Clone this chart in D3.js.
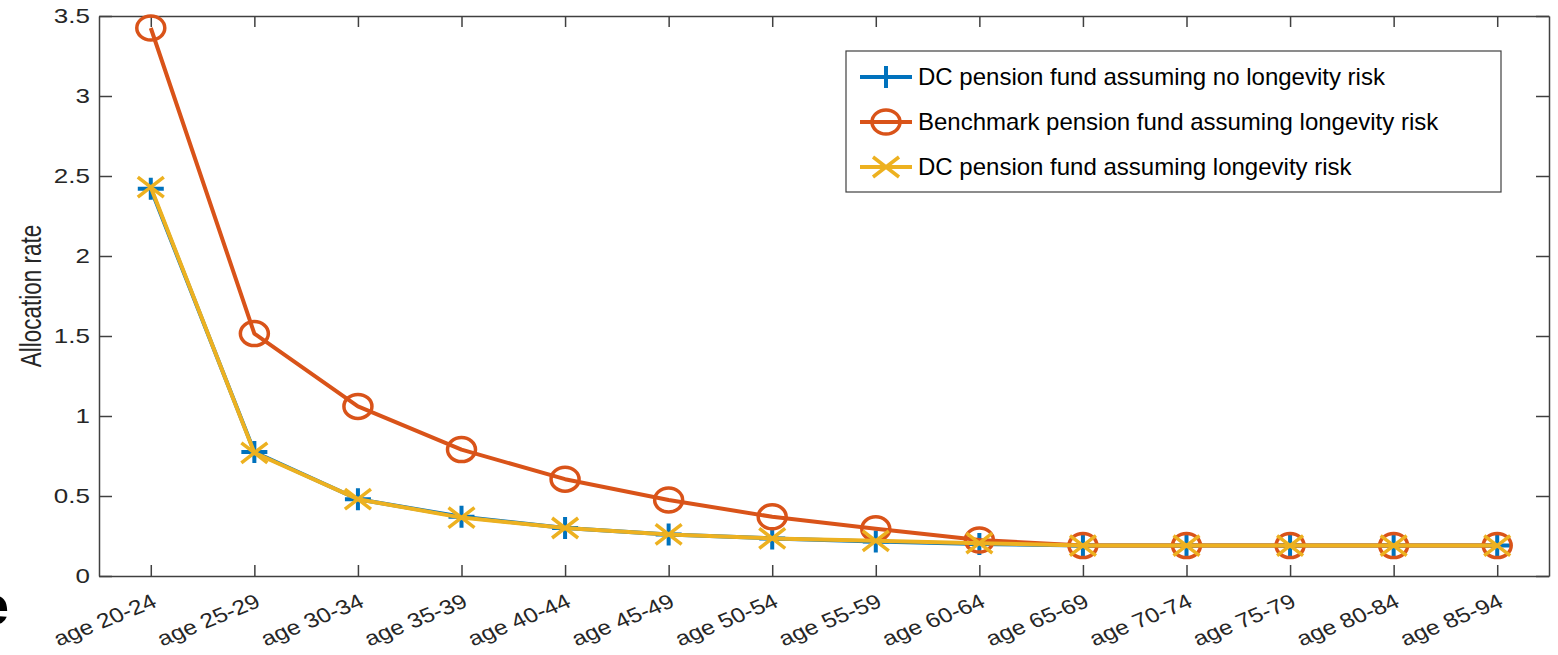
<!DOCTYPE html>
<html>
<head>
<meta charset="utf-8">
<script src="https://cdn.jsdelivr.net/npm/d3@7"></script>
<style>
  body { margin: 0; background: #fff; }
  text { font-family: "Liberation Sans", Arial, sans-serif; }
</style>
</head>
<body>
<svg id="chart" width="1558" height="655"></svg>
<script>
const ageGroups = ["age 20-24", "age 25-29", "age 30-34", "age 35-39", "age 40-44", "age 45-49", "age 50-54",
    "age 55-59", "age 60-64", "age 65-69", "age 70-74", "age 75-79", "age 80-84", "age 85-94"];
const dcNoLongevity = [2.42, 0.775, 0.48, 0.37, 0.30, 0.26, 0.235, 0.215, 0.20, 0.19, 0.19, 0.19, 0.19, 0.19];
const benchmark = [3.425, 1.515, 1.06, 0.79, 0.605, 0.475, 0.37, 0.295, 0.225, 0.19, 0.19, 0.19, 0.19, 0.19];
const dcLongevity = [2.43, 0.77, 0.48, 0.365, 0.30, 0.26, 0.235, 0.22, 0.205, 0.19, 0.19, 0.19, 0.19, 0.19];
const yTicks = [0, 0.5, 1, 1.5, 2, 2.5, 3, 3.5];

const seriesList = [
    {name: "DC pension fund assuming no longevity risk", values: dcNoLongevity, color: "#0072BD", marker: "plus"},
    {name: "Benchmark pension fund assuming longevity risk", values: benchmark, color: "#D95319", marker: "circle"},
    {name: "DC pension fund assuming longevity risk", values: dcLongevity, color: "#EDB120", marker: "cross"}
];

const margin = {top: 16, right: 9, bottom: 79, left: 99};
const width = 1558, height = 655;
const axisColor = "#404040";

const svg = d3.select("#chart");

const x = d3.scalePoint()
    .domain(ageGroups)
    .range([margin.left, width - margin.right])
    .padding(0.5);

const y = d3.scaleLinear()
    .domain([0, 3.5])
    .range([height - margin.bottom, margin.top]);

// axes, box with inward ticks
svg.append("g")
    .attr("transform", `translate(0,${height - margin.bottom})`)
    .call(d3.axisBottom(x).tickSizeInner(-11).tickSizeOuter(0))
    .call(g => g.select(".domain").attr("stroke", axisColor).attr("stroke-width", 1.5))
    .call(g => g.selectAll(".tick line").attr("stroke", axisColor).attr("stroke-width", 1.5))
    .call(g => g.selectAll(".tick text")
        .attr("fill", "#262626")
        .attr("font-size", 20.5)
        .attr("text-anchor", "end")
        .attr("dy", null)
        .attr("x", 0).attr("y", 0)
        .attr("transform", "translate(7,30) scale(1.2,1) rotate(-26)"));

svg.append("g")
    .attr("transform", `translate(0,${margin.top})`)
    .call(d3.axisTop(x).tickSizeInner(-11).tickSizeOuter(0).tickFormat(""))
    .call(g => g.select(".domain").attr("stroke", axisColor).attr("stroke-width", 1.5))
    .call(g => g.selectAll(".tick line").attr("stroke", axisColor).attr("stroke-width", 1.5));

svg.append("g")
    .attr("transform", `translate(${margin.left},0)`)
    .call(d3.axisLeft(y).tickValues(yTicks).tickSizeInner(-13).tickSizeOuter(0)
        .tickFormat(d => d3.format("")(d)))
    .call(g => g.select(".domain").attr("stroke", axisColor).attr("stroke-width", 1.5))
    .call(g => g.selectAll(".tick line").attr("stroke", axisColor).attr("stroke-width", 1.5))
    .call(g => g.selectAll(".tick text")
        .attr("fill", "#262626")
        .attr("font-size", 20)
        .attr("x", 0)
        .attr("transform", "translate(-9,0) scale(1.3,1)"));

svg.append("g")
    .attr("transform", `translate(${width - margin.right},0)`)
    .call(d3.axisRight(y).tickValues(yTicks).tickSizeInner(-13).tickSizeOuter(0).tickFormat(""))
    .call(g => g.select(".domain").attr("stroke", axisColor).attr("stroke-width", 1.5))
    .call(g => g.selectAll(".tick line").attr("stroke", axisColor).attr("stroke-width", 1.5));

svg.append("text")
    .attr("transform", `translate(41,${(margin.top + height - margin.bottom) / 2}) scale(1.3,1) rotate(-90)`)
    .attr("text-anchor", "middle")
    .attr("fill", "#262626")
    .attr("font-size", 22.5)
    .text("Allocation rate");

// cropped letter at bottom left, as in the source image
svg.append("text")
    .attr("x", 9).attr("y", 624)
    .attr("text-anchor", "end")
    .attr("font-size", 54)
    .attr("font-weight", "bold")
    .attr("fill", "#000")
    .text("e");

function drawMarker(g, type, color) {
    if (type === "plus") {
        g.append("path").attr("d", "M-13,0H13M0,-11V11")
            .attr("stroke", color).attr("stroke-width", 4).attr("fill", "none");
    } else if (type === "circle") {
        g.append("ellipse").attr("rx", 14).attr("ry", 12)
            .attr("stroke", color).attr("stroke-width", 3.5).attr("fill", "none");
    } else {
        g.append("path").attr("d", "M-13,-10L13,10M-13,10L13,-10")
            .attr("stroke", color).attr("stroke-width", 3.5).attr("fill", "none");
    }
}

const line = d3.line()
    .x((d, i) => x(ageGroups[i]))
    .y(d => y(d));

seriesList.forEach(s => {
    const g = svg.append("g");
    g.append("path")
        .datum(s.values)
        .attr("fill", "none")
        .attr("stroke", s.color)
        .attr("stroke-width", 4)
        .attr("stroke-linejoin", "round")
        .attr("d", line);
    g.selectAll("g.marker")
        .data(s.values)
        .join("g")
        .attr("class", "marker")
        .attr("transform", (d, i) => `translate(${x(ageGroups[i])},${y(d)})`)
        .each(function() { drawMarker(d3.select(this), s.marker, s.color); });
});

// legend
const legend = svg.append("g").attr("transform", "translate(846,51)");
legend.append("rect")
    .attr("width", 655).attr("height", 141)
    .attr("fill", "#fff")
    .attr("stroke", "#404040").attr("stroke-width", 1.2);

seriesList.forEach((s, i) => {
    const row = legend.append("g").attr("transform", `translate(0,${26 + i * 45})`);
    row.append("line")
        .attr("x1", 14).attr("x2", 66)
        .attr("stroke", s.color).attr("stroke-width", 4);
    const m = row.append("g").attr("transform", "translate(40,0)");
    drawMarker(m, s.marker, s.color);
    row.append("text")
        .attr("x", 72).attr("dy", "0.35em")
        .attr("font-size", 24)
        .attr("fill", "#000")
        .text(s.name);
});
</script>
</body>
</html>
